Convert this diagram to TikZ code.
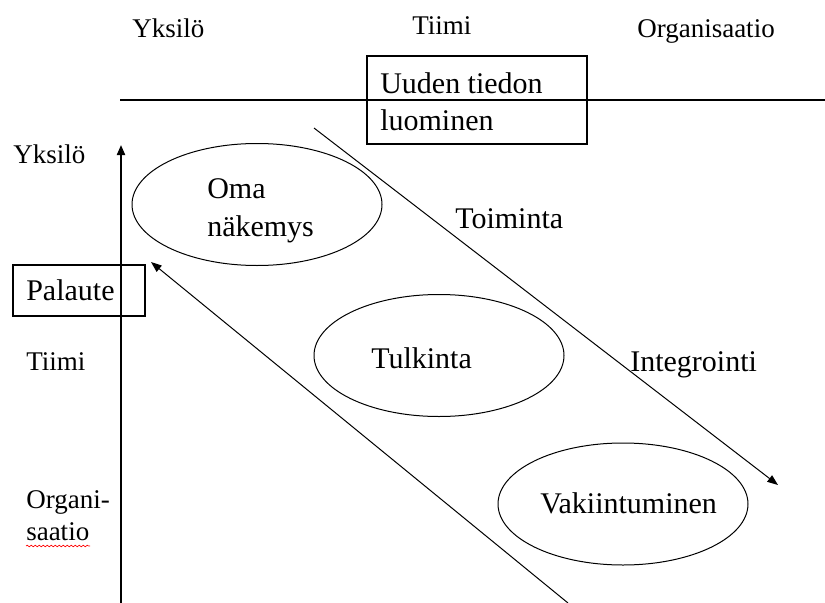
\documentclass[tikz,border=0pt]{standalone}
\usepackage{fontspec}
\setmainfont{Liberation Serif}
\usetikzlibrary{arrows.meta,shapes.geometric,decorations.pathmorphing}
\begin{document}
\begin{tikzpicture}[x=0.75pt,y=-0.75pt,
  big/.style={font=\fontsize{22.5}{27}\selectfont, inner sep=0pt, anchor=base west},
  small/.style={font=\fontsize{20.25}{24}\selectfont, inner sep=0pt, anchor=base west},
  oval/.style={draw, ellipse, line width=0.75pt, minimum width=187.5pt, minimum height=91.5pt, inner sep=0pt},
  framebox/.style={draw, line width=1.5pt, inner sep=0pt},
  thintip/.style={-{Triangle[length=8pt,width=6pt]}, line width=0.75pt},
  thicktip/.style={-{Triangle[length=7.5pt,width=6pt]}, line width=1.5pt}
]
\useasboundingbox (0,0) rectangle (825,603);

% header labels
\node[small] (hY) at (132,37) {Yksilö};
\node[small] (hT) at (412,35) {Tiimi};
\node[small] (hO) at (637,37) {Organisaatio};

% horizontal axis
\coordinate (hl) at (120,100);
\coordinate (hr) at (825,100);
\draw[line width=1.1pt] (hl) -- (hr);

% box Uuden tiedon luominen
\node[framebox, minimum width=165pt, minimum height=66pt] (ubox) at (477,100) {};
\node[big] (u1) at (380,93) {Uuden tiedon};
\node[big] (u2) at (380,130) {luominen};

% vertical axis
\coordinate (vb) at (121,603);
\coordinate (vt) at (121,145);
\draw[thicktip] (vb) -- (vt);

% side labels
\node[small] (sY) at (13,163) {Yksilö};
\node[small] (sT) at (26,370) {Tiimi};
\node[small] (sO1) at (26,508) {Organi-};
\node[small] (sO2) at (26,540) {saatio};
\coordinate (sq1) at (26,546);
\coordinate (sq2) at (90,546);
\draw[red, line width=0.5pt, decorate, decoration={snake, segment length=3pt, amplitude=0.6pt}] (sq1) -- (sq2);

% Palaute box
\node[framebox, minimum width=99pt, minimum height=38.25pt] (pbox) at (79,290.5) {};
\node[big] (pal) at (26,300) {Palaute};

% ellipses
\node[oval] (oma) at (257,204.5) {};
\node[big] (oma1) at (207,198) {Oma};
\node[big] (oma2) at (207,236) {näkemys};

\node[oval] (tul) at (439,355.5) {};
\node[big] (tult) at (371,368) {Tulkinta};

\node[oval] (vak) at (623,504) {};
\node[big] (vakt) at (540,513) {Vakiintuminen};

% diagonal arrows
\coordinate (a1s) at (314,128);
\coordinate (a1e) at (778,485);
\draw[thintip] (a1s) -- (a1e);

\coordinate (a2s) at (568,603);
\coordinate (a2e) at (151,262);
\draw[thintip] (a2s) -- (a2e);

% arrow labels
\node[big] (toim) at (455,228) {Toiminta};
\node[big] (integ) at (630,371) {Integrointi};
\end{tikzpicture}
\end{document}
